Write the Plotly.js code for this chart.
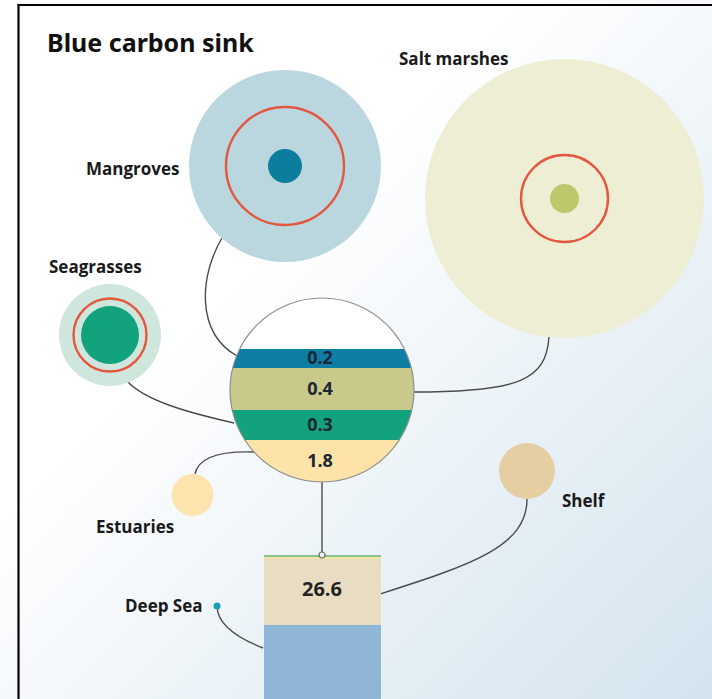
<!DOCTYPE html>
<html><head><meta charset="utf-8">
<script src="https://cdn.plot.ly/plotly-3.0.1.min.js"></script>
<style>
html,body{margin:0;padding:0;background:#fff;}
#chart{width:712px;height:699px;background:linear-gradient(135deg,#ffffff 0%,#ffffff 36%,#eaf2f7 66%,#d3e3ee 100%);}
</style></head><body><div id="chart"></div>
<script>
// ---- data ----
const chartTitle = 'Blue carbon sink';
const habitats = ['Mangroves', 'Salt marshes', 'Seagrasses', 'Estuaries'];
const coastalSink = [0.2, 0.4, 0.3, 1.8];
const oceanZones = ['Shelf', 'Deep Sea'];
const shelfSink = [26.6];

// ---- styles ----
const FONT = 'Open Sans, Lato, sans-serif';
const TITLE_FONT = 'Noto Sans Condensed, Noto Sans, sans-serif';
const outerColors = {'Mangroves':'#bad7df','Salt marshes':'#eeeed4','Seagrasses':'#cfe6dd','Estuaries':'#fde4af','Shelf':'#e5cfa2'};
const coreColors = {'Mangroves':'#0b7e9d','Salt marshes':'#bdc76c','Seagrasses':'#13a27e'};
const bandColors = ['#0e7ea4', '#c9c98b', '#13a27e', '#fde3a8'];
const RING = '#e4573f';
const LINE = '#4b4b4b';

// ---- layout geometry (pixels) ----
const geo = {
  'Mangroves':    {cx:285,   cy:166,   outer:96,    ring:59,   core:17,   label:{x:181, y:168, anchor:'right'}},
  'Salt marshes': {cx:564.5, cy:198.5, outer:139.5, ring:43.5, core:14.5, label:{x:397, y:58,  anchor:'left'}},
  'Seagrasses':   {cx:110,   cy:335,   outer:51,    ring:36.5, core:29,   label:{x:47,  y:266, anchor:'left'}},
  'Estuaries':    {cx:192.5, cy:495,   outer:21,                          label:{x:176, y:526, anchor:'right'}},
  'Shelf':        {cx:527,   cy:471,   outer:28,                          label:{x:560, y:500, anchor:'left'}},
  'Deep Sea':     {cx:217,   cy:606,   outer:3,                           label:{x:205, y:605, anchor:'right'}}
};
const hub = {cx:322, cy:390, r:92, bands:[349, 368, 410, 440, 482]};
const column = {x:322, w:117, tops:[555, 557, 559, 625], bottoms:[557, 559, 625, 699],
                colors:['#88c58c', '#f6e3a6', '#e8ddc3', '#8fb5d7']};
const connectors = [
  'M 222 238 C 200 275, 195 332, 237 356',
  'M 127 381 C 145 401, 190 413, 234 423',
  'M 549 337 C 546 380, 520 392, 413 392',
  'M 195 474 C 199 455, 225 451, 254 452',
  'M 322 482 L 322 553',
  'M 527 499 C 527 547, 470 565, 380 594',
  'M 217 607 C 218 626, 240 639, 263 648'
];

// ---- traces ----
const traces = [];
const outerNames = ['Mangroves','Salt marshes','Seagrasses','Estuaries','Shelf'];
traces.push({type:'scatter', mode:'markers', hoverinfo:'skip',
  x: outerNames.map(n => geo[n].cx), y: outerNames.map(n => geo[n].cy),
  marker:{size: outerNames.map(n => 2*geo[n].outer), color: outerNames.map(n => outerColors[n]), line:{width:0}, opacity:1}});
const ringNames = ['Mangroves','Salt marshes','Seagrasses'];
traces.push({type:'scatter', mode:'markers', hoverinfo:'skip',
  x: ringNames.map(n => geo[n].cx), y: ringNames.map(n => geo[n].cy),
  marker:{size: ringNames.map(n => 2*geo[n].ring), color:'rgba(0,0,0,0)', opacity:1, line:{width:2.4, color:RING}}});
traces.push({type:'scatter', mode:'markers', hoverinfo:'skip',
  x: ringNames.map(n => geo[n].cx), y: ringNames.map(n => geo[n].cy),
  marker:{size: ringNames.map(n => 2*geo[n].core), color: ringNames.map(n => coreColors[n]), opacity:1, line:{width:0}}});

// hub circle: white disc + bands
function segment(y1, y2) {
  const xs = [], ys = [], N = 40;
  for (let i = 0; i <= N; i++) { const y = y1 + (y2 - y1) * i / N; const w = Math.sqrt(Math.max(0, hub.r*hub.r - (y-hub.cy)*(y-hub.cy))); xs.push(hub.cx - w); ys.push(y); }
  for (let i = N; i >= 0; i--) { const y = y1 + (y2 - y1) * i / N; const w = Math.sqrt(Math.max(0, hub.r*hub.r - (y-hub.cy)*(y-hub.cy))); xs.push(hub.cx + w); ys.push(y); }
  return {xs, ys};
}
traces.push({type:'scatter', mode:'markers', hoverinfo:'skip', x:[hub.cx], y:[hub.cy],
  marker:{size:2*hub.r, color:'#ffffff', opacity:1, line:{width:0}}});
habitats.forEach((h, i) => {
  const s = segment(hub.bands[i], hub.bands[i+1]);
  traces.push({type:'scatter', mode:'lines', hoverinfo:'skip', x:s.xs, y:s.ys, fill:'toself',
    fillcolor: bandColors[i], line:{width:0}});
});
traces.push({type:'scatter', mode:'markers', hoverinfo:'skip', x:[hub.cx], y:[hub.cy],
  marker:{size:2*hub.r, color:'rgba(0,0,0,0)', opacity:1, line:{width:1.2, color:'#8c8c8c'}}});
traces.push({type:'scatter', mode:'text', hoverinfo:'skip',
  x: habitats.map(() => hub.cx - 2),
  y: habitats.map((h, i) => (hub.bands[i] + hub.bands[i+1]) / 2 + 1),
  text: coastalSink.map(v => v.toFixed(1)),
  textfont:{family:FONT, size:18, color:'#1b2733', weight:700}});

// column (bars)
traces.push({type:'bar', hoverinfo:'skip', x: column.tops.map(() => column.x), width: column.tops.map(() => column.w),
  base: column.tops, y: column.tops.map((t, i) => column.bottoms[i] - t),
  marker:{color: column.colors, opacity:1, line:{width:0}}});
traces.push({type:'scatter', mode:'text', hoverinfo:'skip', x:[column.x], y:[(column.tops[2] + column.bottoms[2]) / 2 - 1],
  text: shelfSink.map(v => v.toFixed(1)), textfont:{family:FONT, size:20, color:'#222', weight:700}});

// small dots
traces.push({type:'scatter', mode:'markers', hoverinfo:'skip', x:[column.x], y:[555],
  marker:{size:6, color:'#f3f3f3', opacity:1, line:{width:1.2, color:'#666'}}});
traces.push({type:'scatter', mode:'markers', hoverinfo:'skip', x:[geo['Deep Sea'].cx], y:[geo['Deep Sea'].cy],
  marker:{size:7, color:'#1a9cb4', opacity:1, line:{width:0}}});

// ---- annotations ----
const labelNames = habitats.concat(oceanZones);
const annotations = labelNames.map(n => ({
  x: geo[n].label.x, y: geo[n].label.y, xref:'x', yref:'y', showarrow:false,
  xanchor: geo[n].label.anchor, yanchor:'middle', text: n,
  font:{family:FONT, size:17, color:'#1a1a1a', weight:700}
}));
annotations.push({x:45, y:42, xref:'x', yref:'y', showarrow:false, xanchor:'left', yanchor:'middle',
  text: chartTitle, font:{family:TITLE_FONT, size:25, color:'#111', weight:700, stretch:'condensed'}});

const shapes = connectors.map(p => ({type:'path', path:p, xref:'x', yref:'y', layer:'below',
  line:{color:LINE, width:1.4}}));
shapes.push({type:'line', xref:'x', yref:'y', x0:18.5, x1:18.5, y0:4, y1:699, line:{color:'#000', width:2.2}});
shapes.push({type:'line', xref:'x', yref:'y', x0:17.5, x1:712, y0:5, y1:5, line:{color:'#000', width:2.2}});

const layout = {
  width:712, height:699, margin:{l:0, r:0, t:0, b:0, pad:0},
  paper_bgcolor:'rgba(0,0,0,0)', plot_bgcolor:'rgba(0,0,0,0)',
  xaxis:{range:[0,712], visible:false, fixedrange:true},
  yaxis:{range:[699,0], visible:false, fixedrange:true},
  showlegend:false, barmode:'overlay', bargap:0,
  annotations, shapes
};
Plotly.newPlot('chart', traces, layout, {staticPlot:true, displayModeBar:false});
</script></body></html>
